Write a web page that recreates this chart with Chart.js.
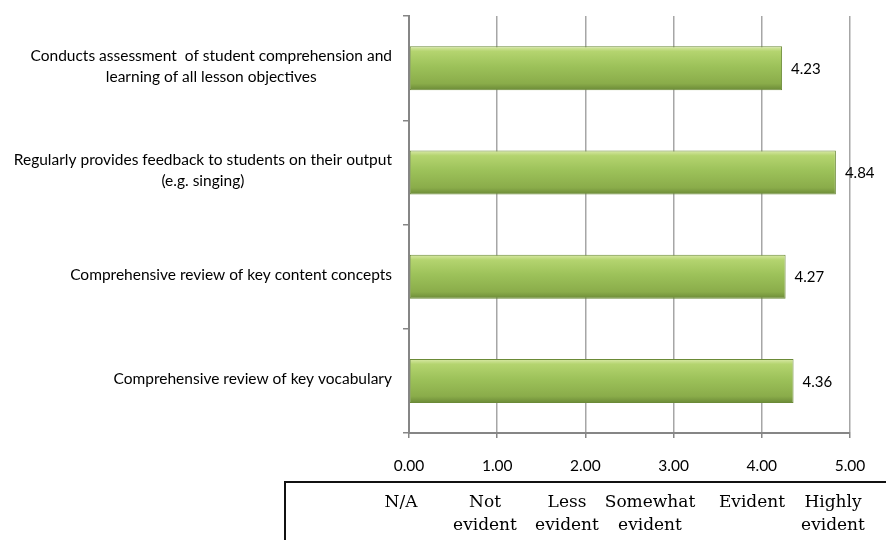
<!DOCTYPE html>
<html>
<head>
<meta charset="utf-8">
<script src="https://cdn.jsdelivr.net/npm/chart.js@4/dist/chart.umd.min.js"></script>
<style>
  html, body { margin: 0; padding: 0; background: #fff; }
  #wrap { position: relative; width: 886px; height: 540px; overflow: hidden; }
  #chart { position: absolute; left: 0; top: 0; }
  /* rating key table under the axis */
  #key {
    position: absolute; left: 284px; top: 481px; width: 620px; height: 80px;
    border-top: 2px solid #111; border-left: 2px solid #111; box-sizing: border-box;
    font: 17px "DejaVu Serif", "Liberation Serif", serif; color: #000;
  }
  #key .col { position: absolute; top: 7px; width: 100px; text-align: center; line-height: 23px; }
</style>
</head>
<body>
<div id="wrap">
  <canvas id="chart" width="886" height="540"></canvas>
  <div id="key"></div>
</div>
<script>
// ------- data -------
const categories = [
  ['Conducts assessment  of student comprehension and', 'learning of all lesson objectives'],
  ['Regularly provides feedback to students on their output', '(e.g. singing)'],
  ['Comprehensive review of key content concepts'],
  ['Comprehensive review of key vocabulary'],
];
const scores = [4.23, 4.84, 4.27, 4.36];
const xMin = 0, xMax = 5, xStep = 1;
const keyLabels = [['N/A'], ['Not', 'evident'], ['Less', 'evident'], ['Somewhat', 'evident'], ['Evident'], ['Highly', 'evident']];

// ------- look -------
const SANS = 'Lato, "Open Sans", sans-serif';
const GRID = '#a6a6a6';
const AXIS = '#868686';
const BAR_H = 44;

// key table columns (centres, page px)
const keyCentres = [399, 483, 565, 648, 750, 831];
const key = document.getElementById('key');
keyLabels.forEach((lines, i) => {
  const d = document.createElement('div');
  d.className = 'col';
  d.style.left = (keyCentres[i] - 284 - 50) + 'px';
  d.innerHTML = lines.join('<br>');
  key.appendChild(d);
});

// green bevel per bar, built from the y scale
function barFill(ctx) {
  const chart = ctx.chart;
  const y = chart.scales.y;
  if (!y || ctx.dataIndex == null) return '#9bbb59';
  const cy = y.getPixelForValue(ctx.dataIndex);
  if (!Number.isFinite(cy)) return '#9bbb59';
  const g = chart.ctx.createLinearGradient(0, cy - BAR_H / 2, 0, cy + BAR_H / 2);
  g.addColorStop(0, '#dbeaa9');
  g.addColorStop(0.12, '#b4d46f');
  g.addColorStop(0.45, '#9dc25a');
  g.addColorStop(0.85, '#8aac4a');
  g.addColorStop(1, '#6b8a37');
  return g;
}

// category labels: block right-aligned at the axis, lines centred in the block
const catLabels = {
  id: 'catLabels',
  afterDraw(chart) {
    const y = chart.scales.y;
    const c = chart.ctx;
    c.save();
    c.font = '15.5px ' + SANS;
    c.fillStyle = '#000';
    c.textBaseline = 'middle';
    c.textAlign = 'center';
    const right = y.right - 17;
    const lh = 21;
    categories.forEach((lines, i) => {
      const w = Math.max(...lines.map(s => c.measureText(s).width));
      const cx = right - w / 2;
      const cy = y.getPixelForValue(i) - ((lines.length - 1) * lh) / 2 - 2;
      lines.forEach((s, k) => c.fillText(s, cx, cy + k * lh));
    });
    c.restore();
  }
};

// value labels at bar ends
const valueLabels = {
  id: 'valueLabels',
  afterDatasetsDraw(chart) {
    const c = chart.ctx;
    const meta = chart.getDatasetMeta(0);
    c.save();
    c.font = '15px ' + SANS;
    c.fillStyle = '#000';
    c.textAlign = 'left';
    c.textBaseline = 'middle';
    meta.data.forEach((bar, i) => {
      c.fillText(scores[i].toFixed(2), bar.x + 9, bar.y + 1);
    });
    c.restore();
  }
};

new Chart(document.getElementById('chart'), {
  type: 'bar',
  data: {
    labels: categories,
    datasets: [{
      data: scores,
      backgroundColor: barFill,
      borderColor: '#6b8a37',
      borderWidth: 1,
      borderSkipped: false,
      categoryPercentage: 1,
      barPercentage: BAR_H / 104.25,
    }]
  },
  options: {
    indexAxis: 'y',
    animation: false,
    responsive: false,
    layout: { padding: { left: 0, right: 36, top: 16, bottom: 0 } },
    plugins: { legend: { display: false }, tooltip: { enabled: false } },
    scales: {
      x: {
        min: xMin, max: xMax,
        ticks: {
          stepSize: xStep, padding: 19, color: '#000',
          font: { family: SANS, size: 15.5 },
          callback: v => Number(v).toFixed(2),
        },
        grid: { color: GRID, lineWidth: 1.5, tickLength: 5, tickColor: AXIS },
        border: { display: true, color: AXIS, width: 2 },
        afterFit: s => { s.height = 107; },
      },
      y: {
        offset: true,
        ticks: { display: false },
        grid: { offset: true, drawOnChartArea: false, tickLength: 6, color: AXIS, lineWidth: 1.5 },
        border: { display: true, color: AXIS, width: 2 },
        afterFit: s => { s.width = 409; },
      }
    }
  },
  plugins: [catLabels, valueLabels]
});
</script>
</body>
</html>
